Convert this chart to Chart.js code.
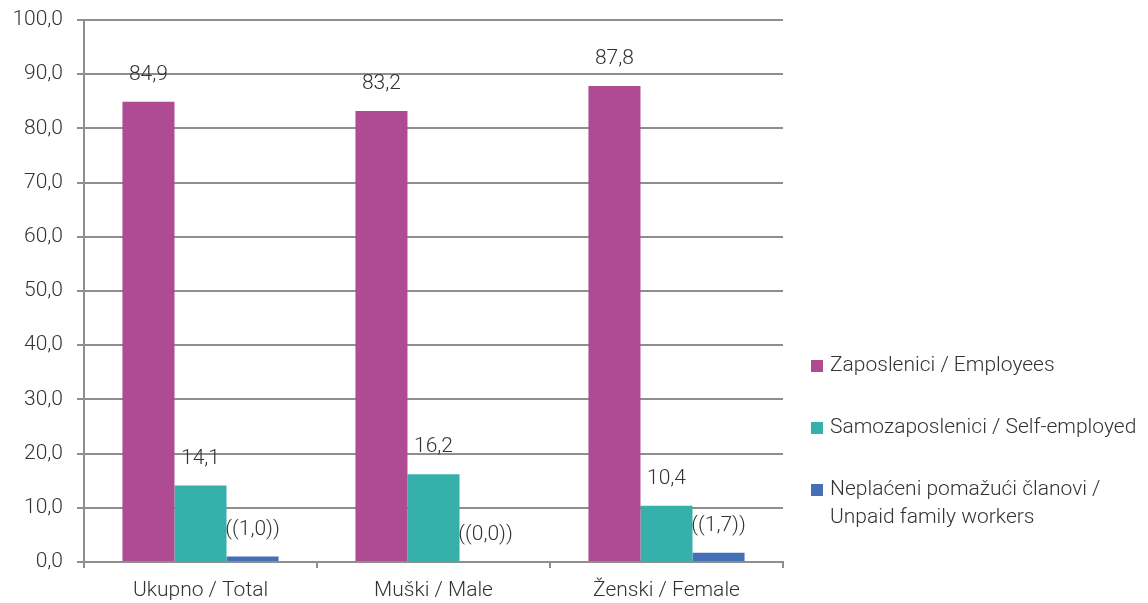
<!DOCTYPE html>
<html>
<head>
<meta charset="utf-8">
<script src="https://cdn.jsdelivr.net/npm/chart.js@4/dist/chart.umd.min.js"></script>
<style>
  html, body { margin: 0; padding: 0; background: #fff; }
  #wrap { width: 1148px; height: 603px; }
</style>
</head>
<body>
<div id="wrap"><canvas id="chart"></canvas></div>
<script>
// ── Podaci ─────────────────────────────────────
const categories = ['Ukupno / Total', 'Muški / Male', 'Ženski / Female'];
const employees = [84.9, 83.2, 87.8];
const selfEmployed = [14.1, 16.2, 10.4];
const unpaidWorkers = [1.0, 0.0, 1.7];
const employeesLabels = ['84,9', '83,2', '87,8'];
const selfEmployedLabels = ['14,1', '16,2', '10,4'];
const unpaidLabels = ['((1,0))', '((0,0))', '((1,7))'];
const seriesNames = [
  ['Zaposlenici / Employees'],
  ['Samozaposlenici / Self-employed'],
  ['Neplaćeni pomažući članovi /', 'Unpaid family workers']
];

const FONT = 'Roboto';
const TEXT = '#333333';
const GRID = '#8e8e8e';

// ── Oznake vrijednosti iznad stupaca ─────────────
const valueLabels = {
  id: 'valueLabels',
  afterDatasetsDraw(chart) {
    const ctx = chart.ctx;
    ctx.save();
    ctx.font = '300 21px ' + FONT;
    ctx.fillStyle = TEXT;
    ctx.textAlign = 'center';
    ctx.textBaseline = 'middle';
    chart.data.datasets.forEach((ds, i) => {
      chart.getDatasetMeta(i).data.forEach((bar, j) => {
        ctx.fillText(ds.valueText[j], bar.x, bar.y - 27);
      });
    });
    ctx.restore();
  }
};

// ── Legenda desno ─────────────────────────────────
const sideLegend = {
  id: 'sideLegend',
  afterDraw(chart) {
    const ctx = chart.ctx;
    const x0 = chart.chartArea.right + 28;
    const rows = [366, 428, 490];
    ctx.save();
    ctx.font = '300 21px ' + FONT;
    ctx.textBaseline = 'middle';
    chart.data.datasets.forEach((ds, i) => {
      ctx.fillStyle = ds.backgroundColor;
      ctx.fillRect(x0, rows[i] - 6, 12, 12);
      ctx.fillStyle = TEXT;
      seriesNames[i].forEach((line, k) => {
        ctx.fillText(line, x0 + 19, rows[i] + k * 28);
      });
    });
    ctx.restore();
  }
};

const ctx = document.getElementById('chart').getContext('2d');

new Chart(ctx, {
  type: 'bar',
  data: {
    labels: categories,
    datasets: [
      { label: seriesNames[0].join(' '), data: employees, valueText: employeesLabels, backgroundColor: '#ae4b92' },
      { label: seriesNames[1].join(' '), data: selfEmployed, valueText: selfEmployedLabels, backgroundColor: '#35b0aa' },
      { label: seriesNames[2].join(' '), data: unpaidWorkers, valueText: unpaidLabels, backgroundColor: '#4570b8' }
    ]
  },
  options: {
    responsive: true,
    maintainAspectRatio: false,
    animation: false,
    layout: { padding: { top: 20, right: 365, left: 0, bottom: 0 } },
    datasets: { bar: { barPercentage: 1, categoryPercentage: 0.67 } },
    plugins: {
      legend: { display: false },
      tooltip: { enabled: false }
    },
    scales: {
      x: {
        grid: { drawOnChartArea: false, drawTicks: true, tickLength: 6, color: GRID, lineWidth: 2 },
        border: { display: true, color: GRID, width: 2 },
        ticks: { color: TEXT, font: { family: FONT, size: 21, weight: 300 }, padding: 10 },
        afterFit(scale) { scale.height = 41; }
      },
      y: {
        min: 0,
        max: 100,
        grid: { color: GRID, lineWidth: 2, drawTicks: true, tickLength: 7 },
        border: { display: true, color: GRID, width: 2 },
        ticks: {
          stepSize: 10,
          color: TEXT,
          padding: 14,
          font: { family: FONT, size: 21, weight: 300 },
          callback: v => v.toFixed(1).replace('.', ',')
        },
        afterFit(scale) {
          scale.width = 84;
          scale.paddingTop = 0;
          scale.paddingBottom = 0;
        }
      }
    }
  },
  plugins: [valueLabels, sideLegend]
});
</script>
</body>
</html>
